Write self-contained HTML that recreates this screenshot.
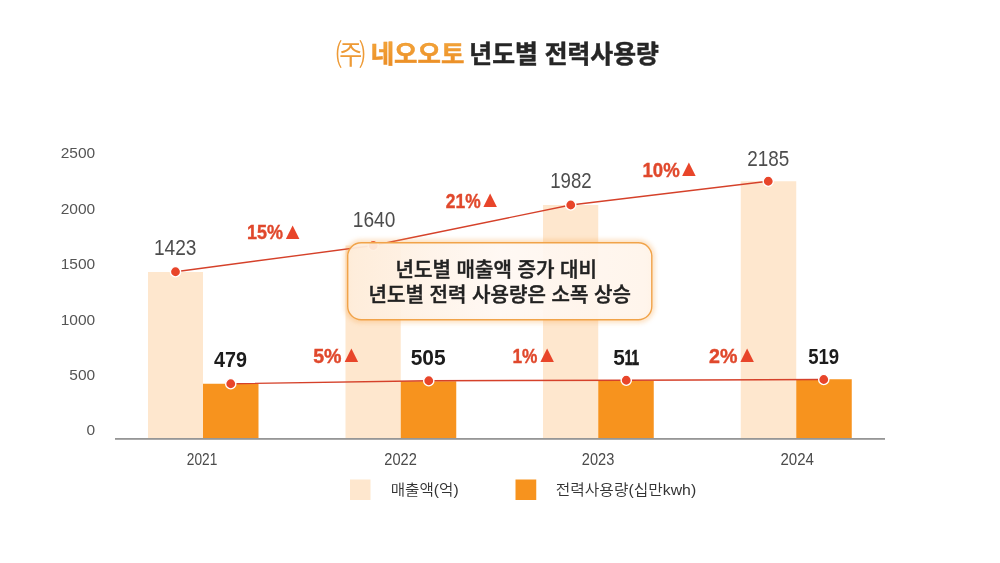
<!DOCTYPE html>
<html lang="ko">
<head>
<meta charset="utf-8">
<title>㈜ 네오오토 년도별 전력사용량</title>
<style>
html,body{margin:0;padding:0;background:#fff;}
body{width:1000px;height:563px;overflow:hidden;position:relative;}
svg{position:absolute;left:0;top:0;display:block;}
text{font-family:"Liberation Sans","Noto Sans CJK KR",sans-serif;}
.ko{font-family:"Liberation Sans","Noto Sans CJK KR",sans-serif;}
.ax{font-size:15.5px;fill:#555;}
.xl{font-size:15.6px;fill:#4a4a4a;}
.vl{font-size:22px;fill:#4d4d4d;}
.vb{font-size:22px;font-weight:700;fill:#1c1c1c;}
.pc{font-size:20.5px;font-weight:700;fill:#e0482c;stroke:#e0482c;stroke-width:0.4px;}
.tr{font-family:"DejaVu Sans",sans-serif;font-size:23px;fill:#e8452a;}
.lg{font-size:15px;font-weight:350;fill:#333;}
.cb{font-size:20px;font-weight:500;fill:#222;stroke:#222;stroke-width:0.45px;}
</style>
</head>
<body>
<svg width="1000" height="563" viewBox="0 0 1000 563">
<defs>
<linearGradient id="tg" x1="0" y1="0" x2="0" y2="1"><stop offset="0" stop-color="#f3a63a"/><stop offset="1" stop-color="#ea8a22"/></linearGradient>
<linearGradient id="cg" x1="0" y1="0" x2="1" y2="0"><stop offset="0" stop-color="#feeddb"/><stop offset="0.5" stop-color="#fff8f3"/><stop offset="1" stop-color="#fff4ea"/></linearGradient>
<filter id="glow" x="-10%" y="-30%" width="120%" height="160%"><feGaussianBlur stdDeviation="2.6"/></filter>
</defs>
<rect width="1000" height="563" fill="#ffffff"/>

<!-- title -->
<g id="title">
<text id="t1" x="335.8" y="64.6" font-size="29.6" font-weight="350" fill="#ee9a35">㈜</text>
<text id="t2" x="370.7" y="63" font-size="24.5" font-weight="700" fill="url(#tg)" stroke="#ee9630" stroke-width="0.5" textLength="93.7" lengthAdjust="spacingAndGlyphs">네오오토</text>
<text id="t3" x="469.3" y="63.3" font-size="24.5" font-weight="700" fill="#262626" stroke="#262626" stroke-width="0.5" textLength="189.6" lengthAdjust="spacingAndGlyphs">년도별 전력사용량</text>
</g>

<!-- y axis labels -->
<g class="ax" text-anchor="end">
<text x="95.2" y="158.1">2500</text>
<text x="95.2" y="213.8">2000</text>
<text x="95.2" y="269.3">1500</text>
<text x="95.2" y="324.6">1000</text>
<text x="95.2" y="380">500</text>
<text x="95.2" y="435.4">0</text>
</g>

<!-- bars -->
<g id="bars">
<rect x="148" y="272" width="55" height="167" fill="#fee7ce"/>
<rect x="345.5" y="245.5" width="55.25" height="193.5" fill="#fee7ce"/>
<rect x="543" y="205" width="55.25" height="234" fill="#fee7ce"/>
<rect x="740.75" y="181.25" width="55.5" height="257.75" fill="#fee7ce"/>
<rect x="203" y="383.75" width="55.5" height="55.25" fill="#f7931e"/>
<rect x="400.75" y="381.25" width="55.5" height="57.75" fill="#f7931e"/>
<rect x="598.25" y="380.75" width="55.5" height="58.25" fill="#f7931e"/>
<rect x="796.25" y="379.25" width="55.5" height="59.75" fill="#f7931e"/>
</g>
<rect x="115" y="438" width="770" height="1.8" fill="#969696"/>

<!-- x axis labels -->
<g class="xl">
<text x="186.8" y="465" textLength="30.5" lengthAdjust="spacingAndGlyphs">2021</text>
<text x="384.3" y="465" textLength="32.5" lengthAdjust="spacingAndGlyphs">2022</text>
<text x="581.8" y="465" textLength="32.5" lengthAdjust="spacingAndGlyphs">2023</text>
<text x="780.5" y="465" textLength="33.5" lengthAdjust="spacingAndGlyphs">2024</text>
</g>

<!-- lines -->
<g fill="none" stroke="#d5412a" stroke-width="1.4" stroke-linejoin="round">
<polyline points="175.5,271.75 373.25,245.5 570.75,205 768.25,181.25"/>
<polyline points="230.75,383.75 428.75,380.75 626.25,380.25 823.75,379.5"/>
</g>
<g fill="#e8452a" stroke="#ffffff" stroke-width="1.4">
<circle cx="175.5" cy="271.75" r="5.1"/>
<circle cx="373.25" cy="245.5" r="5.1"/>
<circle cx="570.75" cy="205" r="5.1"/>
<circle cx="768.25" cy="181.25" r="5.1"/>
<circle cx="230.75" cy="383.75" r="5.1"/>
<circle cx="428.75" cy="380.75" r="5.1"/>
<circle cx="626.25" cy="380.25" r="5.1"/>
<circle cx="823.75" cy="379.5" r="5.1"/>
</g>

<!-- value labels -->
<g class="vl">
<text x="154" y="254.5" textLength="42.5" lengthAdjust="spacingAndGlyphs">1423</text>
<text x="352.8" y="226.8" textLength="42.5" lengthAdjust="spacingAndGlyphs">1640</text>
<text x="550.2" y="187.5" textLength="41.5" lengthAdjust="spacingAndGlyphs">1982</text>
<text x="747.3" y="165.5" textLength="42" lengthAdjust="spacingAndGlyphs">2185</text>
</g>
<g class="vb">
<text x="214" y="367" textLength="33" lengthAdjust="spacingAndGlyphs">479</text>
<text x="410.7" y="365" textLength="35" lengthAdjust="spacingAndGlyphs">505</text>
<text x="613.2" y="365"><tspan textLength="11.6" lengthAdjust="spacingAndGlyphs">5</tspan><tspan textLength="14.4" lengthAdjust="spacingAndGlyphs" stroke="#1c1c1c" stroke-width="0.7">11</tspan></text>
<text x="808.2" y="363.8" textLength="31" lengthAdjust="spacingAndGlyphs">519</text>
</g>

<!-- percent labels -->
<g class="pc">
<text x="247" y="239.2" textLength="36" lengthAdjust="spacingAndGlyphs">15%</text>
<text x="445.8" y="208" textLength="34.8" lengthAdjust="spacingAndGlyphs">21%</text>
<text x="642.5" y="176.8" textLength="37.2" lengthAdjust="spacingAndGlyphs">10%</text>
<text x="313.2" y="363" textLength="28.4" lengthAdjust="spacingAndGlyphs">5%</text>
<text x="512.5" y="363" textLength="25" lengthAdjust="spacingAndGlyphs">1%</text>
<text x="709" y="363" textLength="28.4" lengthAdjust="spacingAndGlyphs">2%</text>
</g>
<g class="tr">
<text x="281.2" y="238.5">▲</text>
<text x="478.7" y="207.4">▲</text>
<text x="677.4" y="175.6">▲</text>
<text x="340.0" y="361.8">▲</text>
<text x="535.7" y="361.8">▲</text>
<text x="735.7" y="361.9">▲</text>
</g>

<!-- callout -->
<g id="callout">
<rect x="347.5" y="242.5" width="304.5" height="77.5" rx="13.5" fill="none" stroke="#f7a851" stroke-width="5" opacity="0.42" filter="url(#glow)"/>
<rect x="347.7" y="242.7" width="304.1" height="77.1" rx="13.5" fill="url(#cg)" fill-opacity="0.93" stroke="#f1a349" stroke-width="1.4"/>
<g class="cb">
<text x="395.6" y="276.5" textLength="201.3" lengthAdjust="spacingAndGlyphs">년도별 매출액 증가 대비</text>
<text x="368.6" y="301.5" textLength="262.3" lengthAdjust="spacingAndGlyphs">년도별 전력 사용량은 소폭 상승</text>
</g>
</g>

<!-- legend -->
<rect x="350" y="479.5" width="20.5" height="20.5" fill="#fee7ce"/>
<rect x="515.5" y="479.5" width="20.75" height="20.5" fill="#f7931e"/>
<g class="lg">
<text x="390.7" y="494.6" textLength="68" lengthAdjust="spacingAndGlyphs">매출액(억)</text>
<text x="555.7" y="494.6" textLength="140.5" lengthAdjust="spacingAndGlyphs">전력사용량(십만kwh)</text>
</g>
</svg>
</body>
</html>
